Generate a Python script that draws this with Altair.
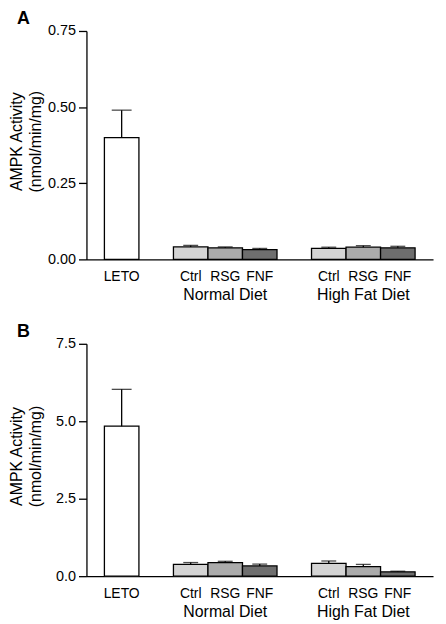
import altair as alt
import pandas as pd

# ---- data ----
slots = ["LETO", "gap1", "Ctrl|N", "RSG|N", "FNF|N", "gap2", "Ctrl|H", "RSG|H", "FNF|H"]
bar_ids = ["LETO", "Ctrl|N", "RSG|N", "FNF|N", "Ctrl|H", "RSG|H", "FNF|H"]
treatments = ["LETO", "Ctrl", "RSG", "FNF", "Ctrl", "RSG", "FNF"]

mean_a = [0.40, 0.041, 0.038, 0.032, 0.036, 0.040, 0.038]
sem_a = [0.09, 0.005, 0.003, 0.004, 0.004, 0.005, 0.005]

mean_b = [4.84, 0.38, 0.44, 0.33, 0.41, 0.31, 0.14]
sem_b = [1.19, 0.06, 0.04, 0.06, 0.08, 0.07, 0.02]

ticks_a = [0, 0.25, 0.5, 0.75]
ticks_b = [0, 2.5, 5.0, 7.5]

group_slots = ["RSG|N", "RSG|H"]
group_labels = ["Normal Diet", "High Fat Diet"]
panel_letters = ["A", "B"]

FONT = "Liberation Sans"
W = 349


def panel(means, sems, letter, ticks, fmt, H):
    df = pd.DataFrame({
        "slot": bar_ids,
        "treat": treatments,
        "mean": means,
        "top": [m + s for m, s in zip(means, sems)],
    })
    gdf = pd.DataFrame({"slot": group_slots, "label": group_labels})
    ldf = pd.DataFrame({"letter": [letter]})

    xscale = alt.Scale(domain=slots, paddingInner=0, paddingOuter=0.52)
    yscale = alt.Scale(domain=[0, ticks[-1]], nice=False)
    xaxis = alt.Axis(title=None, ticks=False, labelAngle=0, labelPadding=10,
                     labelExpr="indexof(datum.value,'gap')==0 ? '' : split(datum.value,'|')[0]",
                     labelFontSize=14)
    yaxis = alt.Axis(values=ticks, format=fmt, grid=False,
                     title=["AMPK Activity", "(nmol/min/mg)"],
                     titleX=-78, titleY=H / 2 - 4, titleBaseline="top",
                     titleAngle=-90, titleAlign="center",
                     tickSize=8, labelPadding=3, labelFontSize=14.5, titleFontSize=16)

    def X():
        return alt.X("slot:N", scale=xscale, axis=xaxis)

    def Y(field):
        return alt.Y(field, scale=yscale, axis=yaxis)

    bars = alt.Chart(df).mark_bar(stroke="black", strokeWidth=1.3).encode(
        x=X(),
        y=Y("mean:Q"),
        color=alt.Color("treat:N", legend=None,
                        scale=alt.Scale(domain=["LETO", "Ctrl", "RSG", "FNF"],
                                        range=["white", "#d4d4d4", "#ababab", "#6e6e6e"])),
    )

    err = alt.Chart(df).mark_rule(color="black", strokeWidth=1.3).encode(
        x=X(), y=Y("mean:Q"), y2="top:Q",
    )

    cap_big = alt.Chart(df).transform_filter(alt.datum.slot == "LETO").mark_tick(
        color="black", size=20, thickness=1.3).encode(x=X(), y=Y("top:Q"))
    cap_small = alt.Chart(df).transform_filter(alt.datum.slot != "LETO").mark_tick(
        color="black", size=15, thickness=1.3).encode(x=X(), y=Y("top:Q"))

    gtext = alt.Chart(gdf).mark_text(fontSize=16, baseline="top", font=FONT, color="black").encode(
        x=X(),
        y=alt.value(H + 28),
        text="label:N",
    )

    ltext = alt.Chart(ldf).mark_text(fontSize=18, fontWeight="bold", baseline="alphabetic",
                                     align="left", font=FONT, color="black").encode(
        x=alt.value(-70),
        y=alt.value(-7),
        text="letter:N",
    )

    return alt.layer(bars, err, cap_big, cap_small, gtext, ltext).properties(
        width=W, height=H,
    )


chart = alt.vconcat(
    panel(mean_a, sem_a, panel_letters[0], ticks_a, ".2f", 230),
    panel(mean_b, sem_b, panel_letters[1], ticks_b, ".1f", 234),
    spacing=20,
).properties(padding={"left": 0, "top": 0, "right": 5, "bottom": 0}).configure(
    font=FONT, view=alt.ViewConfig(stroke=None)
).configure_axis(
    domainColor="black", domainWidth=1.3, tickColor="black", tickWidth=1.3,
    labelColor="black", titleColor="black", labelFont=FONT, titleFont=FONT,
    titleFontWeight="normal", titleLineHeight=19,
)

chart.save("out.html", embed_options={"renderer": "svg", "actions": False})
